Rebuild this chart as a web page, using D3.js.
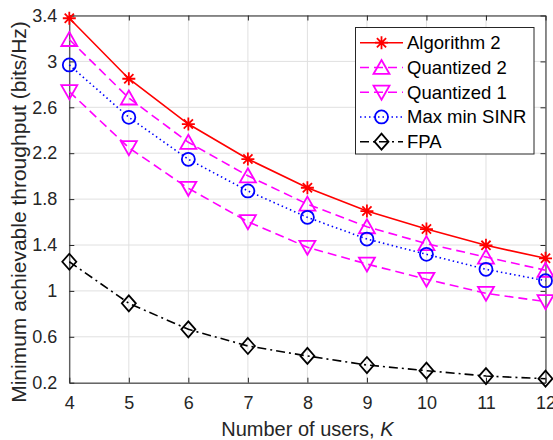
<!DOCTYPE html>
<html>
<head>
<meta charset="utf-8">
<script src="https://cdn.jsdelivr.net/npm/d3@7"></script>
<style>
  html, body { margin: 0; padding: 0; background: #fff; }
  svg { display: block; font-family: "Liberation Sans", Arial, Helvetica, sans-serif; }
</style>
</head>
<body>
<svg id="chart" width="553" height="440"></svg>
<script>
// Number of users K on the x axis
const users = [4, 5, 6, 7, 8, 9, 10, 11, 12];

// Minimum achievable throughput (bits/Hz) per scheme
const algorithm2   = [3.376, 2.849, 2.454, 2.149, 1.899, 1.696, 1.539, 1.397, 1.284];
const quantized2   = [3.191, 2.681, 2.295, 2.003, 1.756, 1.559, 1.412, 1.295, 1.180];
const quantized1   = [2.736, 2.248, 1.894, 1.603, 1.380, 1.234, 1.101, 0.979, 0.906];
const maxMinSinr   = [2.969, 2.513, 2.147, 1.871, 1.641, 1.452, 1.319, 1.188, 1.089];
const fpa          = [1.254, 0.892, 0.665, 0.520, 0.433, 0.354, 0.305, 0.258, 0.235];

const seriesNames = ["Algorithm 2", "Quantized 2", "Quantized 1", "Max min SINR", "FPA"];

// Axis ticks
const xTicks = [4, 5, 6, 7, 8, 9, 10, 11, 12];
const yTicks = [0.2, 0.6, 1, 1.4, 1.8, 2.2, 2.6, 3, 3.4];

const xLabel = "Number of users, ";
const yLabel = "Minimum achievable throughput (bits/Hz)";

// Styling for each series
const styles = [
  { color: "#ff0000", dash: null,          marker: "star" },
  { color: "#ff00ff", dash: "9,5",         marker: "triUp" },
  { color: "#ff00ff", dash: "9,5",         marker: "triDown" },
  { color: "#0000ff", dash: "1.5,3",       marker: "circle" },
  { color: "#000000", dash: "9,4,2,4",     marker: "diamond" }
];
const seriesValues = [algorithm2, quantized2, quantized1, maxMinSinr, fpa];

const svg = d3.select("#chart");
const plotLeft = 69.3, plotRight = 545.5, plotTop = 15.5, plotBottom = 382.7;
const axisColor = "#262626";

const x = d3.scaleLinear().domain([4, 12]).range([plotLeft, plotRight]);
const y = d3.scaleLinear().domain([0.2, 3.4]).range([plotBottom, plotTop]);

// Grid lines
const grid = svg.append("g");
grid.selectAll("line.vx").data(xTicks).join("line")
  .attr("x1", d => x(d)).attr("x2", d => x(d))
  .attr("y1", plotTop).attr("y2", plotBottom)
  .attr("stroke", "#e0e0e0").attr("stroke-width", 1);
grid.selectAll("line.hy").data(yTicks).join("line")
  .attr("y1", d => y(d)).attr("y2", d => y(d))
  .attr("x1", plotLeft).attr("x2", plotRight)
  .attr("stroke", "#e0e0e0").attr("stroke-width", 1);

// Axes (ticks point inward, box on all four sides)
const fmt = d => String(d);
const tickLen = 5;
const xAxisB = d3.axisBottom(x).tickValues(xTicks).tickFormat(fmt).tickSizeInner(-tickLen).tickSizeOuter(0).tickPadding(14);
const yAxisL = d3.axisLeft(y).tickValues(yTicks).tickFormat(fmt).tickSizeInner(-tickLen).tickSizeOuter(0).tickPadding(12);
const xAxisT = d3.axisTop(x).tickValues(xTicks).tickFormat("").tickSizeInner(-tickLen).tickSizeOuter(0);
const yAxisR = d3.axisRight(y).tickValues(yTicks).tickFormat("").tickSizeInner(-tickLen).tickSizeOuter(0);

function styleAxis(g) {
  g.select(".domain").attr("stroke", axisColor).attr("stroke-width", 1);
  g.selectAll(".tick line").attr("stroke", axisColor).attr("stroke-width", 1);
  g.selectAll(".tick text").attr("fill", axisColor).style("font-size", "18px")
    .style("font-family", "'Liberation Sans', Arial, Helvetica, sans-serif");
}
svg.append("g").attr("transform", `translate(0,${plotBottom})`).call(xAxisB).call(styleAxis);
svg.append("g").attr("transform", `translate(${plotLeft},0)`).call(yAxisL).call(styleAxis);
svg.append("g").attr("transform", `translate(0,${plotTop})`).call(xAxisT).call(styleAxis);
svg.append("g").attr("transform", `translate(${plotRight},0)`).call(yAxisR).call(styleAxis);

// Axis labels
const xl = svg.append("text")
  .attr("x", (plotLeft + plotRight) / 2).attr("y", 436)
  .attr("text-anchor", "middle").attr("fill", axisColor)
  .style("font-size", "20px");
xl.append("tspan").text(xLabel);
xl.append("tspan").attr("font-style", "italic").text("K");

svg.append("text")
  .attr("transform", "translate(26,212) rotate(-90)")
  .attr("text-anchor", "middle").attr("fill", axisColor)
  .style("font-size", "21px")
  .text(yLabel);

// Marker shapes, centred on (0,0)
function drawMarker(g, type, color) {
  const sw = 1.8;
  if (type === "star") {
    const r = 6.5, d = r * Math.SQRT1_2;
    g.append("path")
      .attr("d", `M${-r},0L${r},0M0,${-r}L0,${r}M${-d},${-d}L${d},${d}M${-d},${d}L${d},${-d}`)
      .attr("stroke", color).attr("stroke-width", sw).attr("fill", "none");
  } else if (type === "triUp") {
    g.append("path").attr("d", "M0,-7.5L8,6.5L-8,6.5Z")
      .attr("stroke", color).attr("stroke-width", sw).attr("fill", "none");
  } else if (type === "triDown") {
    g.append("path").attr("d", "M0,7.5L8,-6.5L-8,-6.5Z")
      .attr("stroke", color).attr("stroke-width", sw).attr("fill", "none");
  } else if (type === "circle") {
    g.append("circle").attr("r", 6.5)
      .attr("stroke", color).attr("stroke-width", sw).attr("fill", "none");
  } else if (type === "diamond") {
    g.append("path").attr("d", "M0,-8L7,0L0,8L-7,0Z")
      .attr("stroke", color).attr("stroke-width", sw).attr("fill", "none");
  }
}

// Series lines and markers
const line = d3.line().x((d, i) => x(users[i])).y(d => y(d));
seriesValues.forEach((vals, s) => {
  const st = styles[s];
  svg.append("path").datum(vals)
    .attr("d", line)
    .attr("fill", "none").attr("stroke", st.color).attr("stroke-width", 1.6)
    .attr("stroke-dasharray", st.dash);
  vals.forEach((v, i) => {
    const g = svg.append("g").attr("transform", `translate(${x(users[i])},${y(v)})`);
    drawMarker(g, st.marker, st.color);
  });
});

// Legend
const lg = svg.append("g");
lg.append("rect").attr("x", 355.5).attr("y", 27.5).attr("width", 178.5).attr("height", 126.5)
  .attr("fill", "#fff").attr("stroke", axisColor).attr("stroke-width", 1);
seriesNames.forEach((name, s) => {
  const st = styles[s];
  const cy = 42.7 + s * 24.75;
  lg.append("line").attr("x1", 360).attr("x2", 403).attr("y1", cy).attr("y2", cy)
    .attr("stroke", st.color).attr("stroke-width", 1.6).attr("stroke-dasharray", st.dash);
  const g = lg.append("g").attr("transform", `translate(381.5,${cy})`);
  drawMarker(g, st.marker, st.color);
  lg.append("text").attr("x", 407).attr("y", cy + 6.5)
    .attr("fill", "#000").style("font-size", "18.5px").text(name);
});
</script>
</body>
</html>
